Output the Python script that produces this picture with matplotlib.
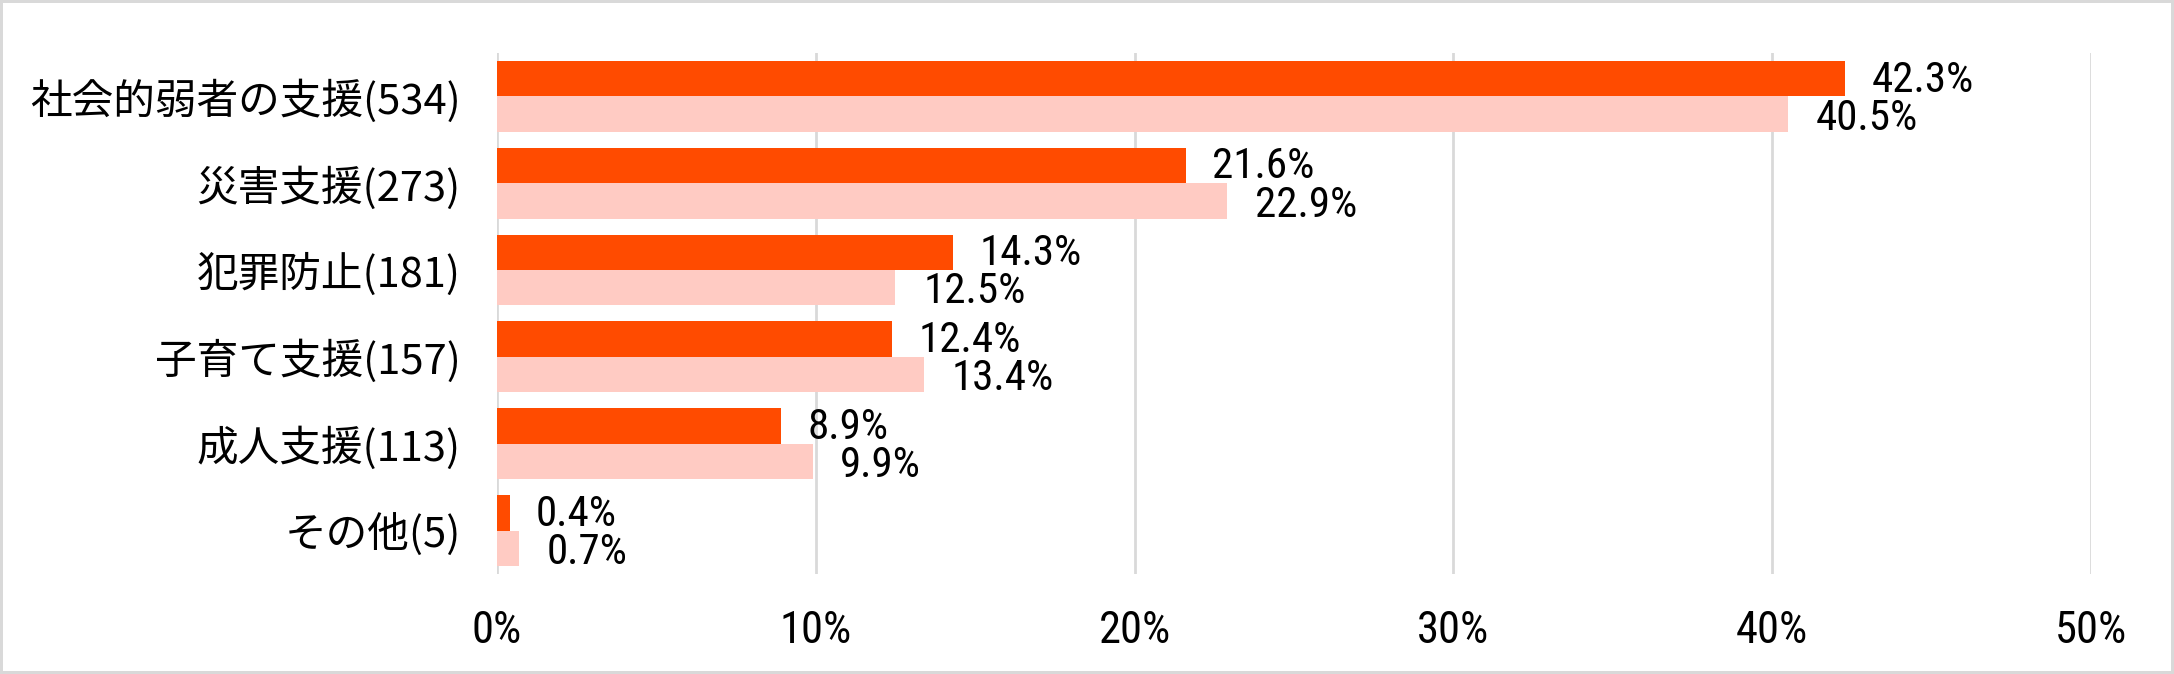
import matplotlib
matplotlib.use("Agg")
import matplotlib.pyplot as plt
from matplotlib import font_manager
from matplotlib.patches import Rectangle
import numpy as np

categories = ["社会的弱者の支援(534)", "災害支援(273)", "犯罪防止(181)",
              "子育て支援(157)", "成人支援(113)", "その他(5)"]
series_a = [42.3, 21.6, 14.3, 12.4, 8.9, 0.4]
series_b = [40.5, 22.9, 12.5, 13.4, 9.9, 0.7]
xticks = [0, 10, 20, 30, 40, 50]

# narrow face for numbers if one is installed, else the CJK font
names = {f.name for f in font_manager.fontManager.ttflist}
jp = "Noto Sans CJK JP"
narrow = [n for n in ["Liberation Sans Narrow", "DejaVu Sans Condensed", "Roboto Condensed",
                      "Open Sans Condensed", "Noto Sans Condensed"] if n in names]
num_font = narrow[:1] + [jp]
plt.rcParams["font.family"] = [jp, "DejaVu Sans"]

dark, light, grid = "#FF4B00", "#FFCBC3", "#D9D9D9"

fig = plt.figure(figsize=(21.74, 6.74), dpi=100)
ax = fig.add_axes([0.2286, 0.1484, 0.9618 - 0.2286, 0.9214 - 0.1484])

y = np.arange(len(categories))
h = 0.408
ax.barh(y - h / 2, series_a, height=h, color=dark, zorder=3)
ax.barh(y + h / 2, series_b, height=h, color=light, zorder=3)

for yi, a, b in zip(y, series_a, series_b):
    ax.annotate(f"{a:.1f}%", (a, yi - h / 2), xytext=(19, -1), textcoords="offset points",
                va="center", ha="left", fontsize=31, family=num_font)
    ax.annotate(f"{b:.1f}%", (b, yi + h / 2), xytext=(20, -3), textcoords="offset points",
                va="center", ha="left", fontsize=31, family=num_font)

ax.set_xlim(0, 50)
ax.set_ylim(len(categories) - 0.5, -0.5)
ax.set_xticks(xticks)
ax.set_xticklabels([f"{t}%" for t in xticks], fontsize=32, family=num_font)
ax.set_yticks(y)
ax.set_yticklabels(categories, fontsize=30)
ax.tick_params(axis="x", length=0, pad=26)
ax.tick_params(axis="y", length=0, pad=26)
for s in ax.spines.values():
    s.set_visible(False)
ax.grid(axis="x", color=grid, lw=2, zorder=0)
ax.set_axisbelow(True)

fig.patches.append(Rectangle((0, 0), 1, 1, transform=fig.transFigure, fill=False,
                             edgecolor=grid, lw=4.3))
fig.savefig("out.png", dpi=100)
